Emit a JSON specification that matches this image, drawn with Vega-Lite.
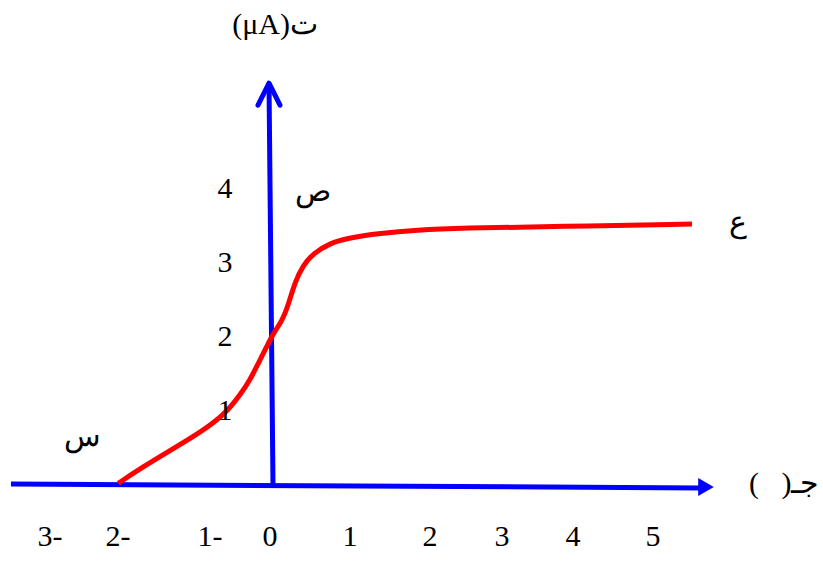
{
  "$schema": "https://vega.github.io/schema/vega-lite/v6.json",
  "width": 823,
  "height": 561,
  "autosize": "none",
  "padding": 0,
  "background": "white",
  "config": {"view": {"stroke": null}},
  "datasets": {
    "axes": [
      {"x": -3.574, "y": 0.0135, "x2": 5.59, "y2": -0.04},
      {"x": 0.0375, "y": 0, "x2": -0.0167, "y2": 5.43}
    ],
    "curve": [
      {"x": -1.997, "y": 0.023},
      {"x": -1.725, "y": 0.247},
      {"x": -1.453, "y": 0.45},
      {"x": -1.182, "y": 0.653},
      {"x": -0.945, "y": 0.834},
      {"x": -0.695, "y": 1.014},
      {"x": -0.5, "y": 1.216},
      {"x": -0.333, "y": 1.419},
      {"x": -0.195, "y": 1.645},
      {"x": -0.055, "y": 1.869},
      {"x": 0.041, "y": 2.05},
      {"x": 0.146, "y": 2.207},
      {"x": 0.229, "y": 2.432},
      {"x": 0.3125, "y": 2.747},
      {"x": 0.416, "y": 2.973},
      {"x": 0.541, "y": 3.131},
      {"x": 0.75, "y": 3.266},
      {"x": 0.959, "y": 3.334},
      {"x": 1.375, "y": 3.401},
      {"x": 1.834, "y": 3.446},
      {"x": 2.417, "y": 3.473},
      {"x": 3.817, "y": 3.493},
      {"x": 5.4875, "y": 3.527}
    ],
    "arrowRight": [{"x": 5.6625, "y": -0.027}],
    "arrowUp": [{"x": -0.0167, "y": 5.43}],
    "labels": [
      {"x": -3, "y": -0.703, "label": "3-"},
      {"x": -2, "y": -0.703, "label": "2-"},
      {"x": -1, "y": -0.703, "label": "1-"},
      {"x": 0, "y": -0.703, "label": "0"},
      {"x": 1, "y": -0.703, "label": "1"},
      {"x": 2, "y": -0.703, "label": "2"},
      {"x": 3, "y": -0.703, "label": "3"},
      {"x": 4, "y": -0.703, "label": "4"},
      {"x": 5, "y": -0.703, "label": "5"},
      {"x": -0.75, "y": 1, "label": "1"},
      {"x": -0.75, "y": 2, "label": "2"},
      {"x": -0.75, "y": 3, "label": "3"},
      {"x": -0.75, "y": 4, "label": "4"},
      {"x": 0.0625, "y": 6.216, "label": "(μA)ت"},
      {"x": 0.5375, "y": 3.96, "label": "ص"},
      {"x": 6.0625, "y": 3.54, "label": "ع"},
      {"x": -2.515, "y": 0.649, "label": "س"},
      {"x": 6.64, "y": 0.014, "label": "(\u00a0\u00a0\u00a0)جـ"}
    ]
  },
  "encoding": {
    "x": {
      "field": "x",
      "type": "quantitative",
      "axis": null,
      "scale": {
        "domain": [-3, -2, -1, 0, 1, 2, 3, 4, 5],
        "range": [50, 118, 210, 270, 350, 430, 502, 573, 653],
        "nice": false,
        "zero": false
      }
    },
    "y": {
      "field": "y",
      "type": "quantitative",
      "axis": null,
      "scale": {"domain": [-1.027, 6.554], "nice": false, "zero": false}
    }
  },
  "layer": [
    {
      "data": {"name": "axes"},
      "mark": {"type": "rule", "color": "#0000ff", "strokeWidth": 5},
      "encoding": {
        "x2": {"field": "x2"},
        "y2": {"field": "y2"}
      }
    },
    {
      "data": {"name": "curve"},
      "mark": {"type": "line", "color": "#ff0000", "strokeWidth": 5, "interpolate": "basis"}
    },
    {
      "data": {"name": "arrowRight"},
      "mark": {"type": "point", "shape": "triangle-right", "filled": true, "size": 324, "color": "#0000ff", "opacity": 1}
    },
    {
      "data": {"name": "arrowUp"},
      "mark": {"type": "point", "shape": "M-1,2L0,0L1,2", "filled": false, "size": 484, "color": "#0000ff", "strokeWidth": 5, "strokeCap": "round", "strokeJoin": "round", "opacity": 1}
    },
    {
      "data": {"name": "labels"},
      "mark": {"type": "text", "font": "Liberation Serif", "fontSize": 30, "color": "black", "align": "center", "baseline": "middle"},
      "encoding": {"text": {"field": "label"}}
    }
  ]
}
